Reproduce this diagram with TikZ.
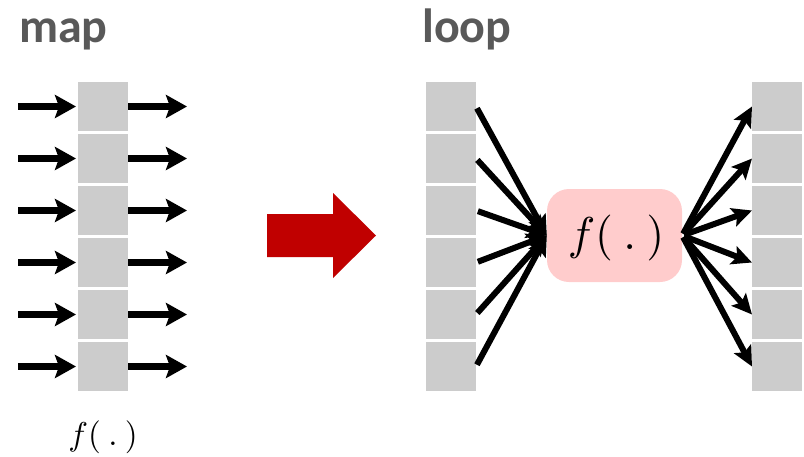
\documentclass[tikz,border=0pt]{standalone}
\usepackage{fontspec}
\usepackage{amsmath}
\usetikzlibrary{matrix,arrows.meta}
\newfontfamily\titlefont{Carlito}
\definecolor{cellgray}{HTML}{CCCCCC}
\definecolor{fpink}{HTML}{FFCCCC}
\definecolor{bigred}{HTML}{C00000}
\definecolor{titlegray}{HTML}{595959}
\tikzstyle{cell} = [rectangle, fill=cellgray, minimum width=50pt, minimum height=49pt, inner sep=0pt, outer sep=0pt]
\tikzstyle{col} = [matrix of nodes, nodes in empty cells, nodes={cell}, row sep=3pt, inner sep=0pt, outer sep=0pt, anchor=north west]
\tikzstyle{maparr} = [line width=6.5pt, -{Stealth[length=21pt, width=23pt, inset=4pt]}]
\tikzstyle{looparr} = [line width=6pt, -{Stealth[length=20pt, width=19pt, inset=4pt]}]
\tikzstyle{title} = [anchor=base west, inner sep=0pt, text=titlegray, font=\titlefont\bfseries\fontsize{48}{48}\selectfont]
\newcommand{\fdot}{$f(\mkern4mu.\mkern4mu)$}

\begin{document}
\begin{tikzpicture}[x=1pt, y=1pt]
				\useasboundingbox (0,0) rectangle (804,-456);
				% titles
				\node [title] (maptitle) at (19,-42) {map};
				\node [title] (looptitle) at (422,-42) {loop};
				% map: one f(.) per cell
				\matrix (mapcol) at (78,-82) [col] {
					\\ \\ \\ \\ \\ \\
				};
				\foreach \i in {1,...,6} {
					\coordinate (mapin\i) at ([xshift=-60pt]mapcol-\i-1.west);
					\coordinate (mapout\i) at ([xshift=59pt]mapcol-\i-1.east);
					\draw [maparr, shorten >=2pt] (mapin\i) -- (mapcol-\i-1.west);
					\draw [maparr] (mapcol-\i-1.east) -- (mapout\i);
				}
				\node [inner sep=0pt, scale=3.3] (mapf) at (103,-437) {\fdot};
				% big arrow
				\fill [bigred] (267,-214) -- (333,-214) -- (333,-193) -- (376,-235.5)
					-- (333,-278) -- (333,-257) -- (267,-257) -- cycle;
				% loop: one f(.) for all cells
				\matrix (loopin) at (426,-82) [col] {
					\\ \\ \\ \\ \\ \\
				};
				\matrix (loopout) at (752,-82) [col] {
					\\ \\ \\ \\ \\ \\
				};
				\node [rectangle, rounded corners=22pt, fill=fpink, minimum width=135pt, minimum height=93pt,
					inner sep=0pt] (fnode) at (614.5,-235.5) {};
				\node [inner sep=0pt, scale=4.6] (fnodetext) at ([xshift=1.5pt,yshift=-2pt]fnode.center) {\fdot};
				\foreach \i in {1,...,6} {
					\draw [looparr, shorten <=2pt] (loopin-\i-1.east) -- (fnode.west);
					\draw [looparr, shorten <=2pt] (fnode.east) -- (loopout-\i-1.west);
				}
			\end{tikzpicture}
\end{document}
